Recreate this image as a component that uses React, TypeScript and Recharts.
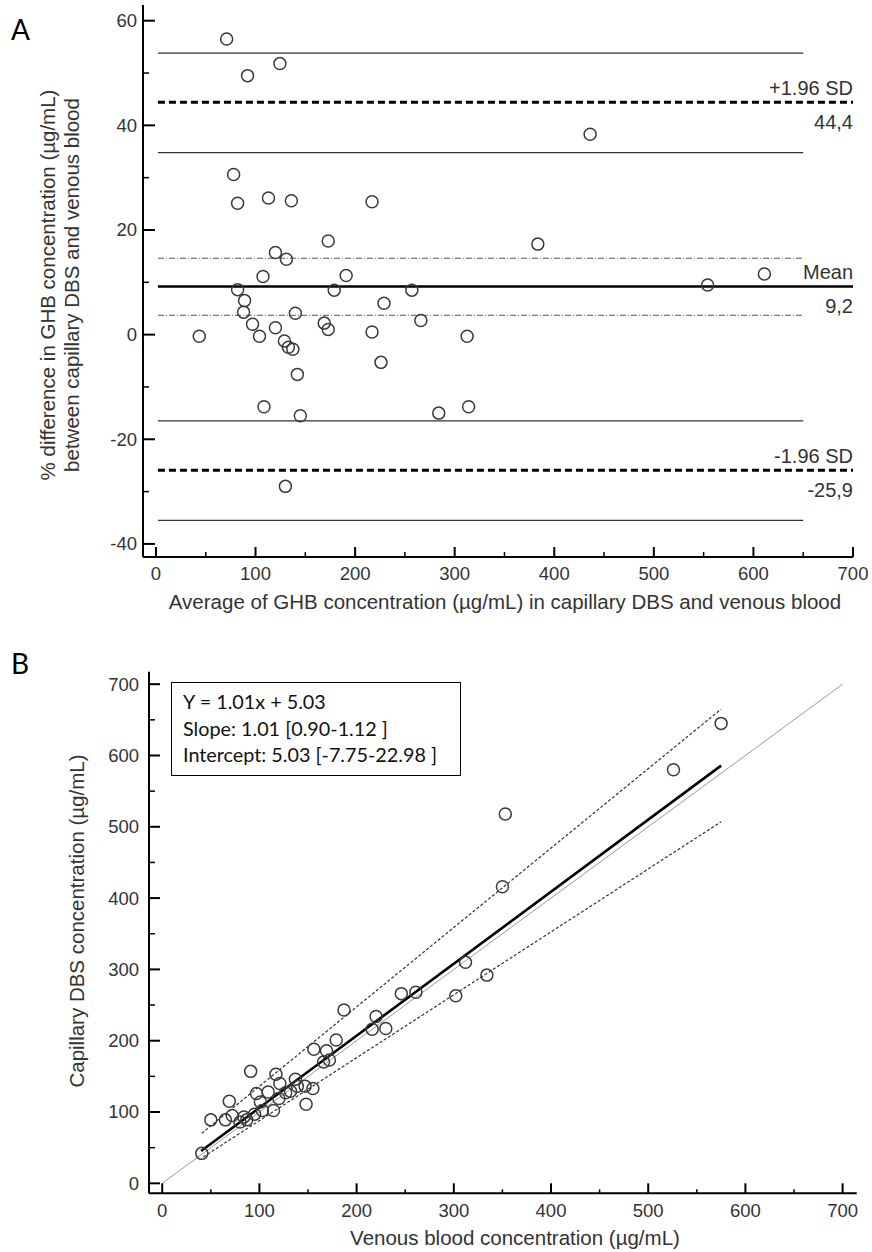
import React from 'react';
import { ScatterChart, Scatter, XAxis, YAxis, ReferenceLine } from 'recharts';

// ---------- Panel A (Bland-Altman) ----------
const baAverage = [71, 92, 124.5, 78, 82, 113, 136, 217, 173, 120, 131, 107.5, 191, 82, 179, 257, 229, 89, 88, 140, 266, 97, 120, 169, 173, 217, 43.5, 104, 312.5, 129, 133, 137.5, 226, 142, 108.5, 314, 145, 284, 130, 436, 383.5, 554, 611];
const baDifference = [56.5, 49.5, 51.8, 30.6, 25.1, 26.1, 25.6, 25.4, 17.9, 15.7, 14.4, 11.1, 11.3, 8.6, 8.5, 8.5, 6.0, 6.5, 4.3, 4.1, 2.7, 2.0, 1.3, 2.2, 1.0, 0.5, -0.3, -0.3, -0.3, -1.2, -2.4, -2.8, -5.3, -7.6, -13.8, -13.8, -15.5, -15.0, -29.0, 38.3, 17.3, 9.5, 11.6];

const baXTicks = [0, 50, 100, 150, 200, 250, 300, 350, 400, 450, 500, 550, 600, 650, 700];
const baXMajor = [0, 100, 200, 300, 400, 500, 600, 700];
const baYTicks = [-40, -30, -20, -10, 0, 10, 20, 30, 40, 50, 60];
const baYMajor = [-40, -20, 0, 20, 40, 60];

const limitValues = [44.4, 9.2, -25.9];
const limitLabelsAbove = ['+1.96 SD', 'Mean', '-1.96 SD'];
const limitLabelsBelow = ['44,4', '9,2', '-25,9'];
const limitCiSolid = [53.8, 34.8, -16.5, -35.5];
const meanCi = [14.6, 3.7];
const ciLineStart = 2;
const ciLineEnd = 650;
const limitLineEnd = 700;

// ---------- Panel B (regression) ----------
const venous = [40.7, 50, 65, 69, 72, 80, 84, 87, 91, 95, 97, 101, 103, 109, 114.5, 117, 120, 121, 127, 132, 137, 139, 147, 148, 155, 156, 166, 169, 172, 179, 187, 216, 220, 230, 246, 261, 302, 312, 334, 350, 353, 526, 575];
const capillary = [42, 89, 89, 115, 95, 86, 93, 89, 157, 97, 126, 114, 102, 128, 102, 153, 119, 140, 127, 129, 146, 136, 136, 111, 133, 188, 170, 186, 173, 201, 243, 216, 234, 217, 266, 268, 263, 310, 292, 416, 518, 580, 645];

const regTicks = [0, 50, 100, 150, 200, 250, 300, 350, 400, 450, 500, 550, 600, 650, 700];
const regMajor = [0, 100, 200, 300, 400, 500, 600, 700];

const identityLine = [{ x: 0, y: 0 }, { x: 700, y: 700 }];
const regressionLine = [{ x: 40, y: 45.4 }, { x: 575, y: 585.8 }];
const upperCiLine = [{ x: 40.6, y: 70 }, { x: 575, y: 665 }];
const lowerCiLine = [{ x: 42.3, y: 37 }, { x: 575, y: 507 }];

const regressionText = ['Y = 1.01x + 5.03', 'Slope: 1.01 [0.90-1.12 ]', 'Intercept: 5.03 [-7.75-22.98 ]'];

const baData = baAverage.map((x, i) => ({ x, y: baDifference[i] }));
const regData = venous.map((x, i) => ({ x, y: capillary[i] }));

const FONT = '"Liberation Sans", Arial, sans-serif';
const TXT = '#333';
const TITLE_SIZE = 20.5;
const TICK_SIZE = 18.5;

const OpenCircle = (props: any) => {
  const { cx, cy } = props;
  if (cx == null || cy == null) return null;
  return <circle cx={cx} cy={cy} r={6} fill="none" stroke="#3a3a3a" strokeWidth={1.5} />;
};

const makeYTick = (majors: number[], majorLen: number, minorLen: number, margin: number) => (props: any) => {
  const { x, y, payload } = props;
  const v = payload.value;
  const isMajor = majors.includes(v);
  const ax = x + margin;
  return (
    <g>
      <line x1={ax} x2={ax + (isMajor ? majorLen : minorLen)} y1={y} y2={y} stroke="#000" strokeWidth={isMajor ? 2 : 1.5} />
      {isMajor && (
        <text x={x} y={y} dy="0.35em" textAnchor="end" fontFamily={FONT} fontSize={TICK_SIZE} fill={TXT}>
          {v}
        </text>
      )}
    </g>
  );
};

const makeXTick = (majors: number[], majorLen: number, minorLen: number, margin: number) => (props: any) => {
  const { x, y, payload } = props;
  const v = payload.value;
  const isMajor = majors.includes(v);
  const ay = y - margin;
  return (
    <g>
      <line x1={x} x2={x} y1={ay} y2={ay - (isMajor ? majorLen : minorLen)} stroke="#000" strokeWidth={isMajor ? 2 : 1.5} />
      {isMajor && (
        <text x={x} y={y} dy="0.75em" textAnchor="middle" fontFamily={FONT} fontSize={TICK_SIZE} fill={TXT}>
          {v}
        </text>
      )}
    </g>
  );
};

const LimitLabel = (props: any) => {
  const { viewBox, above, below } = props;
  const vb = viewBox || {};
  const xr = (vb.x || 0) + (vb.width || 0);
  const yl = vb.y || 0;
  return (
    <g>
      <text x={xr} y={yl - 14} dy="0.35em" textAnchor="end" fontFamily={FONT} fontSize={20} fill={TXT}>{above}</text>
      <text x={xr} y={yl + 20} dy="0.35em" textAnchor="end" fontFamily={FONT} fontSize={20} fill={TXT}>{below}</text>
    </g>
  );
};

const PanelA = () => (
  <ScatterChart width={872} height={640} margin={{ top: 5, right: 19, bottom: 43, left: 103 }}>
    <XAxis
      type="number"
      dataKey="x"
      domain={[-13, 700]}
      allowDataOverflow
      ticks={baXTicks}
      interval={0}
      tickSize={0}
      tickMargin={9}
      height={40}
      tickLine={false}
      axisLine={{ stroke: '#000', strokeWidth: 2 }}
      tick={makeXTick(baXMajor, 10, 5, 9)}
    />
    <YAxis
      type="number"
      dataKey="y"
      domain={[-42.5, 63]}
      allowDataOverflow
      ticks={baYTicks}
      interval={0}
      tickSize={0}
      tickMargin={6}
      width={40}
      tickLine={false}
      axisLine={{ stroke: '#000', strokeWidth: 2 }}
      tick={makeYTick(baYMajor, 12, 6, 6)}
    />
    {limitCiSolid.map((v) => (
      <ReferenceLine key={'ci' + v} segment={[{ x: ciLineStart, y: v }, { x: ciLineEnd, y: v }]} stroke="#333" strokeWidth={1.2} />
    ))}
    {meanCi.map((v) => (
      <ReferenceLine key={'m' + v} segment={[{ x: ciLineStart, y: v }, { x: ciLineEnd, y: v }]} stroke="#555" strokeWidth={1} strokeDasharray="6 2 1 2" />
    ))}
    {limitValues.map((v, i) => (
      <ReferenceLine
        key={'l' + v}
        segment={[{ x: ciLineStart, y: v }, { x: limitLineEnd, y: v }]}
        stroke="#000"
        strokeWidth={i === 1 ? 2.6 : 3}
        strokeDasharray={i === 1 ? undefined : '7 4'}
        label={<LimitLabel above={limitLabelsAbove[i]} below={limitLabelsBelow[i]} />}
      />
    ))}
    <Scatter data={baData} shape={<OpenCircle />} isAnimationActive={false} />
  </ScatterChart>
);

const PanelB = () => (
  <ScatterChart width={872} height={612} margin={{ top: 31.7, right: 15.3, bottom: 18.7, left: 109 }}>
    <XAxis
      type="number"
      dataKey="x"
      domain={[-13.6, 714.5]}
      allowDataOverflow
      ticks={regTicks}
      interval={0}
      tickSize={0}
      tickMargin={10}
      height={40}
      tickLine={false}
      axisLine={{ stroke: '#000', strokeWidth: 2 }}
      tick={makeXTick(regMajor, 10, 4, 10)}
    />
    <YAxis
      type="number"
      dataKey="y"
      domain={[-14, 717.5]}
      allowDataOverflow
      ticks={regTicks}
      interval={0}
      tickSize={0}
      tickMargin={10}
      width={40}
      tickLine={false}
      axisLine={{ stroke: '#000', strokeWidth: 2 }}
      tick={makeYTick(regMajor, 11, 6, 10)}
    />
    <ReferenceLine segment={identityLine} stroke="#9a9a9a" strokeWidth={1} />
    <ReferenceLine segment={upperCiLine} stroke="#333" strokeWidth={1.2} strokeDasharray="3 2" />
    <ReferenceLine segment={lowerCiLine} stroke="#333" strokeWidth={1.2} strokeDasharray="3 2" />
    <ReferenceLine segment={regressionLine} stroke="#000" strokeWidth={2.6} />
    <Scatter data={regData} shape={<OpenCircle />} isAnimationActive={false} />
  </ScatterChart>
);

export default function App() {
  return (
    <div style={{ position: 'absolute', left: 0, top: 0, width: 872, height: 1252, background: '#fff', overflow: 'hidden' }}>
      <div style={{ position: 'absolute', left: 0, top: 0 }}>
        <PanelA />
      </div>
      <div style={{ position: 'absolute', left: 0, top: 640 }}>
        <PanelB />
      </div>
      <div
        style={{
          position: 'absolute',
          left: 171,
          top: 682,
          width: 290,
          height: 94,
          boxSizing: 'border-box',
          border: '1.5px solid #000',
          background: '#fff',
          padding: '5px 0 0 11px',
          fontFamily: 'Lato, "Open Sans", sans-serif',
          fontSize: 19.8,
          lineHeight: '26.5px',
          color: '#111',
        }}
      >
        {regressionText.map((t) => (
          <div key={t} style={{ whiteSpace: 'nowrap' }}>{t}</div>
        ))}
      </div>
      <svg width={872} height={1252} style={{ position: 'absolute', left: 0, top: 0, pointerEvents: 'none' }}>
        <text x={11} y={40} fontFamily='Lato, "Open Sans", sans-serif' fontSize={28} fill="#000">A</text>
        <text x={11} y={674} fontFamily='Lato, "Open Sans", sans-serif' fontSize={28} fill="#000">B</text>
        <g transform="translate(48,285) rotate(-90)">
          <text x={0} y={0} dy="0.35em" textAnchor="middle" fontFamily={FONT} fontSize={TITLE_SIZE} fill={TXT}>
            % difference in GHB concentration (µg/mL)
          </text>
        </g>
        <g transform="translate(72,285) rotate(-90)">
          <text x={0} y={0} dy="0.35em" textAnchor="middle" fontFamily={FONT} fontSize={TITLE_SIZE} fill={TXT}>
            between capillary DBS and venous blood
          </text>
        </g>
        <text x={505} y={602} dy="0.35em" textAnchor="middle" fontFamily={FONT} fontSize={TITLE_SIZE} fill={TXT}>
          Average of GHB concentration (µg/mL) in capillary DBS and venous blood
        </text>
        <g transform="translate(77,921) rotate(-90)">
          <text x={0} y={0} dy="0.35em" textAnchor="middle" fontFamily={FONT} fontSize={TITLE_SIZE} fill={TXT}>
            Capillary DBS concentration (µg/mL)
          </text>
        </g>
        <text x={515} y={1238} dy="0.35em" textAnchor="middle" fontFamily={FONT} fontSize={TITLE_SIZE} fill={TXT}>
          Venous blood concentration (µg/mL)
        </text>
      </svg>
    </div>
  );
}
